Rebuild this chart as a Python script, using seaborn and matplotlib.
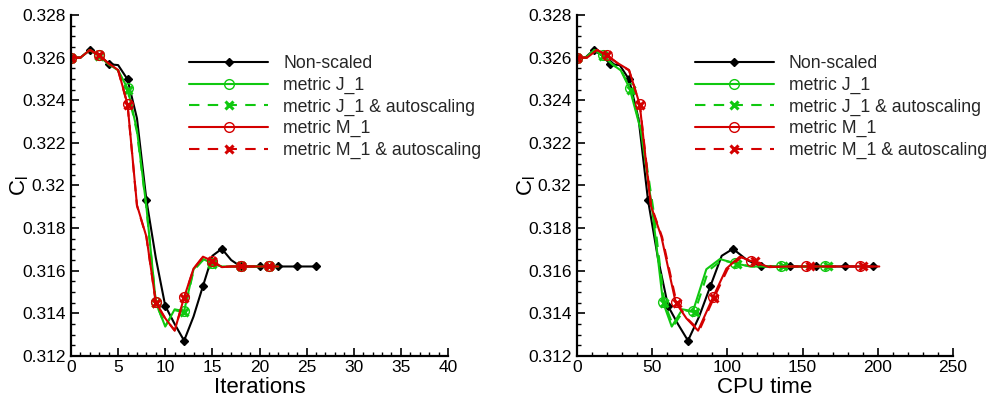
import numpy as np
import pandas as pd
import matplotlib
matplotlib.use("Agg")
import matplotlib.pyplot as plt
from matplotlib.lines import Line2D
from matplotlib.ticker import MultipleLocator, FuncFormatter
import seaborn as sns

# ---------------- data ----------------
# Non-scaled (iterations 0..26)
ns_iter = list(range(27))
ns_cl = [0.32600, 0.32600, 0.32636, 0.32610, 0.32569, 0.32565, 0.32498, 0.32315,
         0.31932, 0.31660, 0.31435, 0.31350, 0.31272, 0.31385, 0.31528, 0.31670,
         0.31703, 0.31650, 0.31620, 0.31620, 0.31620, 0.31620, 0.31620, 0.31620,
         0.31620, 0.31620, 0.31620]
ns_cpu = [0.0, 5.5, 11.1, 16.6, 22.2, 28.4, 34.6, 40.9, 47.2, 53.8, 60.5, 67.1,
          73.8, 81.2, 88.7, 96.2, 103.7, 113.1, 122.6, 132.0, 141.4, 150.3, 159.2,
          168.6, 178.0, 187.4, 196.8]

# metric J_1 (iterations 0..22)
j1_iter = list(range(23))
j1_cl = [0.32600, 0.32600, 0.32636, 0.32610, 0.32570, 0.32540, 0.32456, 0.32260,
         0.31900, 0.31452, 0.31338, 0.31419, 0.31410, 0.31607, 0.31655, 0.31635,
         0.31620, 0.31620, 0.31620, 0.31620, 0.31620, 0.31620, 0.31620]
j1_cpu = [0.0, 5.8, 11.5, 17.3, 23.2, 29.1, 35.0, 42.4, 49.8, 57.2, 63.0, 70.0,
          77.1, 86.0, 95.0, 104.9, 115.0, 125.2, 135.4, 145.2, 155.0, 164.7, 170.0]

# metric J_1 & autoscaling
j1a_cl = [0.32600, 0.32600, 0.32636, 0.32608, 0.32568, 0.32538, 0.32450, 0.32250,
          0.31895, 0.31450, 0.31340, 0.31415, 0.31405, 0.31600, 0.31650, 0.31632,
          0.31620, 0.31620, 0.31620, 0.31620, 0.31620, 0.31620, 0.31620]
j1a_cpu = [0.0, 5.9, 11.7, 17.6, 23.6, 29.6, 35.6, 43.1, 50.6, 58.1, 64.0, 71.1,
           78.3, 87.3, 96.4, 106.4, 116.6, 126.8, 137.0, 146.9, 156.9, 166.9, 172.0]

# metric M_1
m1_cl = [0.32600, 0.32600, 0.32636, 0.32610, 0.32573, 0.32542, 0.32381, 0.31908,
         0.31760, 0.31452, 0.31377, 0.31319, 0.31475, 0.31610, 0.31666, 0.31646,
         0.31617, 0.31620, 0.31620, 0.31620, 0.31620, 0.31620, 0.31620]
m1_cpu = [0.0, 6.7, 13.3, 20.0, 27.3, 34.6, 41.7, 49.0, 56.1, 65.6, 72.7, 80.5,
          90.4, 99.3, 108.2, 115.5, 127.8, 140.1, 152.5, 164.3, 176.2, 188.0, 201.0]

# metric M_1 & autoscaling
m1a_cl = [0.32600, 0.32600, 0.32636, 0.32612, 0.32572, 0.32540, 0.32378, 0.31905,
          0.31758, 0.31450, 0.31375, 0.31320, 0.31472, 0.31608, 0.31664, 0.31644,
          0.31618, 0.31620, 0.31620, 0.31620, 0.31620, 0.31620, 0.31620]
m1a_cpu = [0.0, 6.6, 13.2, 19.8, 27.2, 34.6, 41.8, 49.3, 56.6, 66.2, 73.4, 81.3,
           91.0, 100.2, 109.3, 118.2, 130.4, 142.6, 155.0, 166.8, 178.6, 190.2, 201.0]

labels = ["Non-scaled", "metric J_1", "metric J_1 & autoscaling",
          "metric M_1", "metric M_1 & autoscaling"]

# ---------------- style ----------------
sns.set_theme(style="ticks")
plt.rcParams["font.family"] = ["Liberation Sans", "DejaVu Sans"]
plt.rcParams["mathtext.fontset"] = "custom"
plt.rcParams["mathtext.rm"] = "Liberation Sans"
plt.rcParams["mathtext.it"] = "Liberation Sans"

BLACK = "#000000"
GREEN = "#10c810"
RED = "#d40000"

series = [
    dict(it=ns_iter, cl=ns_cl, cpu=ns_cpu, color=BLACK, ls="-", marker="D",
         ms=4.0, mfc=BLACK, mew=1.0, every=2),
    dict(it=j1_iter, cl=j1_cl, cpu=j1_cpu, color=GREEN, ls="-", marker="o",
         ms=7.0, mfc="none", mew=1.0, every=3),
    dict(it=j1_iter, cl=j1a_cl, cpu=j1a_cpu, color=GREEN, ls=(0, (5, 4)), marker="x",
         ms=5.5, mfc="none", mew=2.2, every=3),
    dict(it=j1_iter, cl=m1_cl, cpu=m1_cpu, color=RED, ls="-", marker="o",
         ms=7.0, mfc="none", mew=1.0, every=3),
    dict(it=j1_iter, cl=m1a_cl, cpu=m1a_cpu, color=RED, ls=(0, (5, 4)), marker="x",
         ms=5.5, mfc="none", mew=2.2, every=3),
]

fig = plt.figure(figsize=(9.91, 4.08), dpi=100)
W, H = 991, 408
ax1 = fig.add_axes([71 / W, 1 - 356 / H, (448 - 71) / W, (356 - 15) / H])
ax2 = fig.add_axes([577 / W, 1 - 356 / H, (953 - 577) / W, (356 - 15) / H])

for ax, xkey in ((ax1, "it"), (ax2, "cpu")):
    for s in series:
        df = pd.DataFrame({"x": s[xkey], "y": s["cl"]})
        sns.lineplot(data=df, x="x", y="y", ax=ax, color=s["color"], linestyle=s["ls"],
                     linewidth=1.5, marker=s["marker"], markersize=s["ms"],
                     markerfacecolor=s["mfc"], markeredgecolor=s["color"],
                     markeredgewidth=s["mew"], markevery=s["every"],
                     sort=False, estimator=None, legend=False)

fmt = FuncFormatter(lambda v, p: "%g" % round(v, 4))
for ax, xmax, xmaj, xmin, xlabel in ((ax1, 40, 5, 1, "Iterations"),
                                     (ax2, 250, 50, 10, "CPU time")):
    ax.set_xlim(0, xmax)
    ax.set_ylim(0.312, 0.328)
    ax.xaxis.set_major_locator(MultipleLocator(xmaj))
    ax.xaxis.set_minor_locator(MultipleLocator(xmin))
    ax.yaxis.set_major_locator(MultipleLocator(0.002))
    ax.yaxis.set_minor_locator(MultipleLocator(0.0005))
    ax.yaxis.set_major_formatter(fmt)
    for sp in ("top", "right"):
        ax.spines[sp].set_visible(False)
    for sp in ("left", "bottom"):
        ax.spines[sp].set_linewidth(1.6)
        ax.spines[sp].set_color("black")
    ax.tick_params(which="major", direction="in", length=6, width=1.2,
                   labelsize=12.5, colors="black", pad=4)
    ax.tick_params(which="minor", direction="in", length=3, width=1.0, colors="black")
    ax.tick_params(axis="x", which="both", top=False, pad=3)
    ax.tick_params(axis="y", which="both", right=False)
    ax.set_xlabel(xlabel, fontsize=16, labelpad=1, color="black")
    ax.set_ylabel(r"$\mathregular{C_l}$", fontsize=16, color="black")
    ax.yaxis.set_label_coords(-0.105, 0.5)
    ax.set_facecolor("white")

    handles = []
    for s in series:
        handles.append(Line2D([0], [0], color=s["color"], linestyle=s["ls"], linewidth=1.5,
                              marker=s["marker"], markersize=s["ms"],
                              markerfacecolor=s["mfc"], markeredgecolor=s["color"],
                              markeredgewidth=s["mew"]))
    ax.legend(handles, labels, loc="upper left", bbox_to_anchor=(0.313, 0.882),
              frameon=False, fontsize=12.7, handlelength=4.48, handletextpad=0.85,
              labelspacing=0.255, borderpad=0, borderaxespad=0, numpoints=1)

fig.savefig("out.png", dpi=100, facecolor="white")
